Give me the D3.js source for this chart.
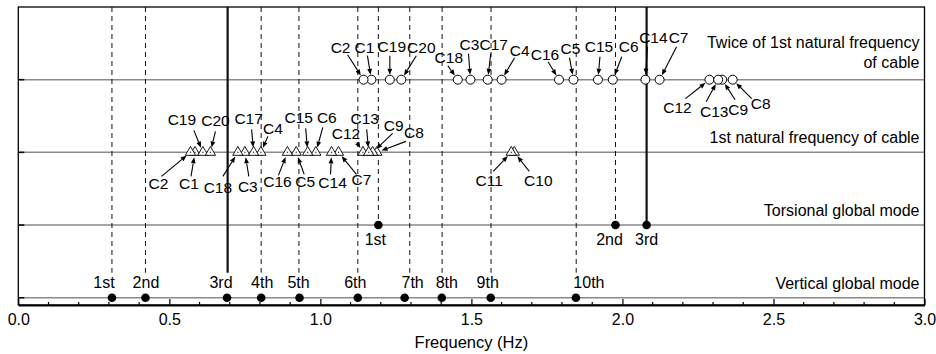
<!DOCTYPE html>
<html>
<head>
<meta charset="utf-8">
<script src="https://cdnjs.cloudflare.com/ajax/libs/d3/7.8.5/d3.min.js"></script>
<style>
    body { margin: 0; background: #fff; }
    svg text { font-family: "Liberation Sans", Arial, Helvetica, sans-serif; fill: #000; }
</style>
</head>
<body>
<div id="chart"></div>
<script>
// ---- values ----
const cables = ["C1","C2","C3","C4","C5","C6","C7","C8","C9","C10",
                "C11","C12","C13","C14","C15","C16","C17","C18","C19","C20"];
// 1st natural frequency of each cable (Hz)
const cableFreq = [0.585, 0.570, 0.750, 0.803, 0.920, 0.985, 1.060, 1.187, 1.173, 1.642,
                   1.632, 1.141, 1.160, 1.037, 0.958, 0.891, 0.779, 0.727, 0.611, 0.636];
// twice of 1st natural frequency (Hz), C10/C11 are off the chart
const cableTwice = [1.169, 1.143, 1.497, 1.600, 1.838, 1.968, 2.123, 2.365, 2.330, null,
                    null, 2.288, 2.317, 2.076, 1.919, 1.790, 1.554, 1.455, 1.230, 1.268];

const vertModes = ["1st","2nd","3rd","4th","5th","6th","7th","8th","9th","10th"];
const vertFreq = [0.310, 0.421, 0.691, 0.804, 0.931, 1.124, 1.279, 1.402, 1.564, 1.846];
const vertGuide = [0.310, 0.421, 0.693, 0.804, 0.929, 1.124, 1.296, 1.403, 1.565, 1.847];

const torsModes = ["1st","2nd","3rd"];
const torsFreq = [1.192, 1.977, 2.080];

const rowLabels = [["Vertical global mode"], ["Torsional global mode"],
                   ["1st natural frequency of cable"], ["Twice of 1st natural frequency", "of cable"]];
const xTicks = [0, 0.5, 1.0, 1.5, 2.0, 2.5, 3.0];
const xMinor = d3.range(0, 31).map(d => d / 10);

// ---- annotation layout (px offsets from the marker: label dx, dy, arrow start dx, dy) ----
const firstCallouts = [
    [-6, 37, -4, 24], [-32, 37, -29, 24], [3, 40, 4, 24], [12, -18, 7, -16], [9, 35, 8, 22],
    [11, -29, 7, -25], [23, 33, 18, 22], [37, -14, 29, -11], [21, -21, 20, -19], [24, 34, 15, 19],
    [-22, 34, -18, 19], [-17, -13, -6, -10], [-4, -28, -2, -23], [1, 36, -1, 22], [-9, -29, -2, -24],
    [-10, 35, -9, 23], [-5, -28, -2, -23], [-20, 41, -15, 24], [-21, -27, -9, -22], [5, -26, 5, -21]
];
const twiceCallouts = [
    [-7, -27, -4, -24], [-23, -27, -16, -25], [-1, -30, -2, -26], [18, -24, 13, -22], [-3, -26, -4, -22],
    [16, -28, 9, -23], [19, -37, 17, -33], [28, 29, 19, 19], [16, 35, 13, 20], null,
    null, [-32, 33, -24, 19], [-4, 37, -12, 22], [8, -37, 2, -33], [1, -28, 2, -23],
    [-14, -20, -11, -18], [6, -30, 3, -26], [-9, -17, -10, -14], [2, -28, 0, -24], [20, -27, 15, -24]
];
const vertLabelShift = [-8, 0.5, -6, 1, -1, -2.5, 8, 5, -3, 13];
const torsLabelShift = [-3, -6, 0];

class ModeChart {

    constructor(parentElement) {
        this.parentElement = parentElement;
        this.initVis();
    }

    initVis() {
        let vis = this;

        vis.width = 936;
        vis.height = 354;
        vis.margin = {top: 7, right: 11.5, bottom: 49, left: 18.3};

        vis.svg = d3.select("#" + vis.parentElement).append("svg")
            .attr("width", vis.width)
            .attr("height", vis.height);

        vis.x = d3.scaleLinear()
            .domain([0, 3])
            .range([vis.margin.left, vis.width - vis.margin.right]);

        // rows: 1 vertical, 2 torsional, 3 cable 1st, 4 twice
        vis.y = d3.scaleLinear()
            .domain([0.9, 5.0])
            .range([vis.height - vis.margin.bottom, vis.margin.top]);

        vis.drawFrame();
        vis.drawGuides();
        vis.drawMarkers();
        vis.drawCallouts();
    }

    drawFrame() {
        let vis = this;
        let x0 = vis.x(0), x1 = vis.x(3), y0 = vis.y(0.9), y1 = vis.y(5);

        // row lines
        vis.svg.append("g").selectAll("line.row")
            .data([1, 2, 3, 4])
            .enter().append("line")
            .attr("class", "row")
            .attr("x1", x0).attr("x2", x1)
            .attr("y1", d => vis.y(d)).attr("y2", d => vis.y(d))
            .attr("stroke", "#8a8a8a")
            .attr("stroke-width", 1.5);

        vis.svg.append("rect")
            .attr("x", x0).attr("y", y1)
            .attr("width", x1 - x0).attr("height", y0 - y1)
            .attr("fill", "none")
            .attr("stroke", "#000")
            .attr("stroke-width", 1.3);

        // left ticks at each row
        vis.svg.append("g").selectAll("line")
            .data([1, 2, 3, 4])
            .enter().append("line")
            .attr("x1", x0).attr("x2", x0 + 6)
            .attr("y1", d => vis.y(d)).attr("y2", d => vis.y(d))
            .attr("stroke", "#000")
            .attr("stroke-width", 1.5);

        // bottom axis
        vis.xAxis = d3.axisBottom(vis.x)
            .tickValues(xTicks)
            .tickSizeInner(-6)
            .tickSizeOuter(0)
            .tickPadding(9)
            .tickFormat(d3.format(".1f"));

        let ax = vis.svg.append("g")
            .attr("class", "x-axis axis")
            .attr("transform", "translate(0," + y0 + ")")
            .call(vis.xAxis);
        ax.select(".domain").attr("stroke", "#000").attr("stroke-width", 2);
        ax.selectAll(".tick line").attr("stroke", "#000").attr("stroke-width", 1.2);
        ax.selectAll(".tick text")
            .style("font-family", "'Liberation Sans', Arial, sans-serif")
            .style("font-size", "16px")
            .attr("fill", "#000");

        vis.svg.append("g").selectAll("line")
            .data(xMinor.filter(d => Math.round(d * 10) % 5 !== 0))
            .enter().append("line")
            .attr("x1", d => vis.x(d)).attr("x2", d => vis.x(d))
            .attr("y1", y0).attr("y2", y0 - 3)
            .attr("stroke", "#000")
            .attr("stroke-width", 1.2);

        vis.svg.append("text")
            .attr("x", (x0 + x1) / 2)
            .attr("y", 348)
            .attr("text-anchor", "middle")
            .style("font-size", "16.5px")
            .text("Frequency (Hz)");

        // row titles
        let rowTitle = vis.svg.append("g").selectAll("text")
            .data(rowLabels)
            .enter().append("text")
            .attr("text-anchor", "end")
            .attr("x", x1 - 5)
            .attr("y", (d, i) => vis.y(i + 1) - (d.length > 1 ? 32 : 9))
            .style("font-size", "16px");
        rowTitle.selectAll("tspan")
            .data(d => d)
            .enter().append("tspan")
            .attr("x", x1 - 5)
            .attr("dy", (d, i) => i === 0 ? 0 : 20.5)
            .text(d => d);
    }

    drawGuides() {
        let vis = this;
        let top = vis.y(5);

        vis.svg.append("g").selectAll("line")
            .data(vertGuide)
            .enter().append("line")
            .attr("x1", d => vis.x(d)).attr("x2", d => vis.x(d))
            .attr("y1", top)
            .attr("y2", vis.y(1) - 25)
            .attr("stroke", "#111")
            .attr("stroke-width", (d, i) => vertModes[i] === "3rd" ? 2.2 : 1)
            .attr("stroke-dasharray", (d, i) => vertModes[i] === "3rd" ? null : "5,4");

        vis.svg.append("g").selectAll("line")
            .data(torsFreq)
            .enter().append("line")
            .attr("x1", d => vis.x(d)).attr("x2", d => vis.x(d))
            .attr("y1", top)
            .attr("y2", vis.y(2))
            .attr("stroke", "#111")
            .attr("stroke-width", (d, i) => torsModes[i] === "3rd" ? 2.2 : 1)
            .attr("stroke-dasharray", (d, i) => torsModes[i] === "3rd" ? null : "5,4");
    }

    drawMarkers() {
        let vis = this;

        // global modes: filled dots
        vis.svg.append("g").selectAll("circle")
            .data(vertFreq)
            .enter().append("circle")
            .attr("cx", d => vis.x(d))
            .attr("cy", vis.y(1))
            .attr("r", 4.3)
            .attr("fill", "#000");

        vis.svg.append("g").selectAll("text")
            .data(vertModes)
            .enter().append("text")
            .attr("x", (d, i) => vis.x(vertFreq[i]) + vertLabelShift[i])
            .attr("y", vis.y(1) - 10)
            .attr("text-anchor", "middle")
            .style("font-size", "16px")
            .text(d => d);

        vis.svg.append("g").selectAll("circle")
            .data(torsFreq)
            .enter().append("circle")
            .attr("cx", d => vis.x(d))
            .attr("cy", vis.y(2))
            .attr("r", 4.3)
            .attr("fill", "#000");

        vis.svg.append("g").selectAll("text")
            .data(torsModes)
            .enter().append("text")
            .attr("x", (d, i) => vis.x(torsFreq[i]) + torsLabelShift[i])
            .attr("y", vis.y(2) + 20)
            .attr("text-anchor", "middle")
            .style("font-size", "16px")
            .text(d => d);

        // cable 1st natural frequency: triangles with a centre point
        let tri = d3.symbol().type(d3.symbolTriangle).size(46);
        let triG = vis.svg.append("g").selectAll("g")
            .data(cableFreq)
            .enter().append("g")
            .attr("transform", d => `translate(${vis.x(d)},${vis.y(3)})`);
        triG.append("path")
            .attr("d", tri)
            .attr("fill", "#fff")
            .attr("stroke", "#000")
            .attr("stroke-width", 0.9);
        triG.append("circle")
            .attr("r", 0.8)
            .attr("fill", "#444");

        // twice of 1st natural frequency: open circles
        vis.svg.append("g").selectAll("circle")
            .data(cableTwice.filter(d => d !== null))
            .enter().append("circle")
            .attr("cx", d => vis.x(d))
            .attr("cy", vis.y(4))
            .attr("r", 4.5)
            .attr("fill", "#fff")
            .attr("stroke", "#000")
            .attr("stroke-width", 1);
    }

    drawCallouts() {
        let vis = this;
        let items = [];

        cables.forEach((c, i) => {
            items.push({name: c, mx: vis.x(cableFreq[i]), my: vis.y(3), o: firstCallouts[i]});
            if (cableTwice[i] !== null)
                items.push({name: c, mx: vis.x(cableTwice[i]), my: vis.y(4), o: twiceCallouts[i]});
        });

        // arrow geometry: from near the label to the marker edge
        items.forEach(d => {
            let len = Math.hypot(d.o[2], d.o[3]);
            let ux = -d.o[2] / len, uy = -d.o[3] / len;   // unit vector toward marker
            d.sx = d.mx + d.o[2];
            d.sy = d.my + d.o[3];
            d.ex = d.mx - 5 * ux;
            d.ey = d.my - 5 * uy;
            let hl = 6, hw = 2.4;
            let bx = d.ex - hl * ux, by = d.ey - hl * uy;
            d.head = `M${d.ex},${d.ey}L${bx - hw * uy},${by + hw * ux}L${bx + hw * uy},${by - hw * ux}Z`;
            d.bx = bx; d.by = by;
        });

        let g = vis.svg.append("g").attr("class", "callouts");

        g.selectAll("path.shaft")
            .data(items)
            .enter().append("path")
            .attr("class", "shaft")
            .attr("d", d => `M${d.sx},${d.sy}L${d.bx},${d.by}`)
            .attr("fill", "none")
            .attr("stroke", "#000")
            .attr("stroke-width", 1.1);

        g.selectAll("path.head")
            .data(items)
            .enter().append("path")
            .attr("class", "head")
            .attr("d", d => d.head)
            .attr("fill", "#000")
            .attr("stroke", "none");

        g.selectAll("text")
            .data(items)
            .enter().append("text")
            .attr("x", d => d.mx + d.o[0])
            .attr("y", d => d.my + d.o[1])
            .attr("text-anchor", "middle")
            .style("font-size", "15.5px")
            .text(d => d.name);
    }
}

new ModeChart("chart");
</script>
</body>
</html>
